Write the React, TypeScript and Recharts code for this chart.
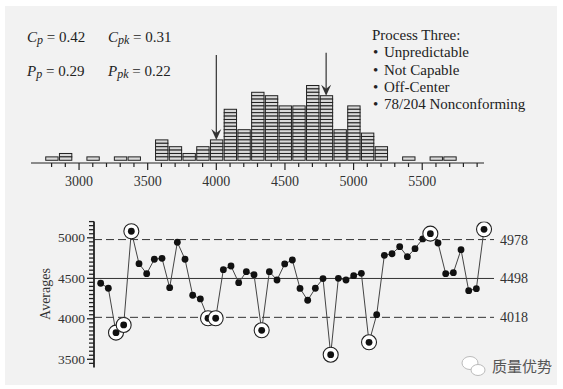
import React from 'react';
import { BarChart, Bar, LineChart, Line, XAxis, YAxis, ReferenceLine } from 'recharts';

// histogram: bin centres and how many of the 204 values fall in each
const bins = [2800, 2900, 3100, 3300, 3400, 3600, 3700, 3800, 3900, 4000, 4100, 4200, 4300, 4400, 4500, 4600, 4700, 4800, 4900, 5000, 5100, 5200, 5400, 5600, 5700];
const counts = [1, 2, 1, 1, 1, 6, 4, 2, 4, 6, 15, 9, 20, 19, 16, 16, 22, 19, 9, 16, 8, 4, 1, 1, 1];
const histTicks = [2800, 2900, 3000, 3100, 3200, 3300, 3400, 3500, 3600, 3700, 3800, 3900, 4000, 4100, 4200, 4300, 4400, 4500, 4600, 4700, 4800, 4900, 5000, 5100, 5200, 5300, 5400, 5500, 5600, 5700, 5800, 5900];
const histLabels = [3000, 3500, 4000, 4500, 5000, 5500];
const specLimits = [4000, 4800];
const specArrowTop = [31, 31.6];
const specArrowTip = [6, 19];

// average chart: 51 subgroup averages
const averages = [
  4439, 4377, 3829, 3924, 5081, 4681, 4557, 4735, 4747, 4384,
  4945, 4735, 4291, 4245, 4007, 4007, 4607, 4652, 4446, 4582,
  4545, 3858, 4582, 4479, 4677, 4726, 4375, 4229, 4377, 4496,
  3557, 4500, 4479, 4533, 4562, 3710, 4051, 4784, 4803, 4891,
  4767, 4866, 4986, 5051, 4936, 4557, 4570, 4854, 4347, 4372,
  5105,
];
const flagged = [3, 4, 5, 15, 16, 22, 31, 36, 44, 51];
const limitValues = [4978, 4498, 4018];
const limitDashed = [true, false, true];
const avgTicks = [3450, 3500, 3550, 3600, 3650, 3700, 3750, 3800, 3850, 3900, 3950, 4000, 4050, 4100, 4150, 4200, 4250, 4300, 4350, 4400, 4450, 4500, 4550, 4600, 4650, 4700, 4750, 4800, 4850, 4900, 4950, 5000, 5050, 5100, 5150, 5200];
const avgLabels = [3500, 4000, 4500, 5000];

const histData = bins.map((b, i) => ({ bin: b, count: counts[i] }));
const avgData = averages.map((v, i) => ({ n: i + 1, avg: v, flagged: flagged.includes(i + 1) }));

const SERIF = '"Liberation Serif", "Times New Roman", serif';
const INK = '#222';

const StackedBar = (props: any) => {
  const { x, y, width, height, payload } = props;
  const n = payload.count;
  if (!n || height <= 0) return null;
  const h = height / n;
  return (
    <g>
      {Array.from({ length: n }, (_, k) => (
        <rect key={k} x={x} y={y + k * h} width={width} height={h} fill="#dadada" stroke={INK} strokeWidth={1} />
      ))}
    </g>
  );
};

const HistTick = (props: any) => {
  const { x, y, payload } = props;
  const major = histLabels.includes(payload.value);
  return (
    <g>
      <line x1={x} y1={y} x2={x} y2={y + (major ? 7 : 4)} stroke={INK} strokeWidth={1.2} />
      {major && (
        <text x={x} y={y + 23} textAnchor="middle" fontFamily={SERIF} fontSize={14} fill="#333">
          {payload.value}
        </text>
      )}
    </g>
  );
};

const Arrow = (props: any) => {
  const { x1, y1, x2, y2 } = props;
  return (
    <g>
      <line x1={x1} y1={y1} x2={x2} y2={y2 - 6} stroke="#333" strokeWidth={1.2} />
      <path d={`M${x2},${y2} L${x2 - 5},${y2 - 11} L${x2},${y2 - 7} L${x2 + 5},${y2 - 11} Z`} fill="#333" />
    </g>
  );
};

const AvgTick = (props: any) => {
  const { x, y, payload } = props;
  const major = avgLabels.includes(payload.value);
  return (
    <g>
      <line x1={x - (major ? 7 : 5)} y1={y} x2={x} y2={y} stroke={INK} strokeWidth={1.3} />
      {major && (
        <text x={x - 9} y={y + 4.5} textAnchor="end" fontFamily={SERIF} fontSize={13.5} fill="#333">
          {payload.value}
        </text>
      )}
    </g>
  );
};

const AvgDot = (props: any) => {
  const { cx, cy, payload } = props;
  return (
    <g>
      {payload.flagged && <circle cx={cx} cy={cy} r={7.5} fill="#fff" stroke={INK} strokeWidth={1.1} />}
      <circle cx={cx} cy={cy} r={3.4} fill="#111" />
    </g>
  );
};

const textStyle = { fontFamily: SERIF, fontSize: 15, fill: '#222' };
const notes = ['Unpredictable', 'Not Capable', 'Off-Center', '78/204 Nonconforming'];

export default function App() {
  return (
    <div style={{ position: 'absolute', left: 0, top: 0, width: 563, height: 389, background: '#fff' }}>
      <div style={{ position: 'absolute', left: 5, top: 6, width: 552, height: 379, background: '#f2f2f2' }} />

      <div style={{ position: 'absolute', left: 0, top: 0 }}>
        <BarChart width={563} height={200} data={histData} margin={{ top: 51.5, right: 79, bottom: 7, left: 31 }}>
          <XAxis
            type="number"
            dataKey="bin"
            domain={[2650, 5950]}
            ticks={histTicks}
            interval={0}
            tick={<HistTick />}
            tickLine={false}
            tickSize={0}
            tickMargin={0}
            height={30}
            axisLine={{ stroke: INK, strokeWidth: 1.2 }}
            allowDataOverflow
          />
          <YAxis type="number" domain={[-0.8, 32]} hide allowDataOverflow />
          <Bar dataKey="count" barSize={13.73} shape={<StackedBar />} isAnimationActive={false} />
          {specLimits.map((s, i) => (
            <ReferenceLine
              key={s}
              segment={[{ x: s, y: specArrowTop[i] }, { x: s, y: specArrowTip[i] }]}
              shape={<Arrow />}
              ifOverflow="visible"
            />
          ))}
        </BarChart>
      </div>

      <div style={{ position: 'absolute', left: 0, top: 0 }}>
        <LineChart width={563} height={389} data={avgData} margin={{ top: 221.6, right: 69, bottom: 21.6, left: 34 }}>
          <XAxis type="number" dataKey="n" domain={[0.13, 52.3]} hide allowDataOverflow />
          <YAxis
            type="number"
            domain={[3400, 5200]}
            ticks={avgTicks}
            interval={0}
            tick={<AvgTick />}
            tickLine={false}
            tickSize={0}
            tickMargin={0}
            width={60}
            axisLine={{ stroke: INK, strokeWidth: 1.8 }}
            allowDataOverflow
          />
          {limitValues.map((v, i) => (
            <ReferenceLine
              key={v}
              y={v}
              stroke="#333"
              strokeWidth={1}
              strokeDasharray={limitDashed[i] ? '8 4' : undefined}
              label={{ value: String(v), position: 'right', offset: 6, fill: '#333', fontSize: 14, fontFamily: SERIF }}
            />
          ))}
          <Line
            dataKey="avg"
            stroke="#444"
            strokeWidth={1}
            dot={(p: any) => <AvgDot key={p.index} {...p} />}
            isAnimationActive={false}
          />
        </LineChart>
      </div>

      <svg width={563} height={389} style={{ position: 'absolute', left: 0, top: 0, pointerEvents: 'none' }}>
        <text x={27} y={42} {...textStyle}>
          <tspan fontStyle="italic">C</tspan>
          <tspan fontStyle="italic" fontSize={12} dy={2}>p</tspan>
          <tspan dy={-2}> = 0.42</tspan>
        </text>
        <text x={108} y={42} {...textStyle}>
          <tspan fontStyle="italic">C</tspan>
          <tspan fontStyle="italic" fontSize={12} dy={2}>pk</tspan>
          <tspan dy={-2}> = 0.31</tspan>
        </text>
        <text x={27} y={76} {...textStyle}>
          <tspan fontStyle="italic">P</tspan>
          <tspan fontStyle="italic" fontSize={12} dy={2}>p</tspan>
          <tspan dy={-2}> = 0.29</tspan>
        </text>
        <text x={108} y={76} {...textStyle}>
          <tspan fontStyle="italic">P</tspan>
          <tspan fontStyle="italic" fontSize={12} dy={2}>pk</tspan>
          <tspan dy={-2}> = 0.22</tspan>
        </text>

        <text x={372} y={40} {...textStyle}>Process Three:</text>
        {notes.map((t, i) => (
          <g key={t}>
            <text x={373} y={57.3 + i * 17.3} {...textStyle}>•</text>
            <text x={384} y={57.3 + i * 17.3} {...textStyle}>{t}</text>
          </g>
        ))}

        <text x={47} y={294} transform="rotate(-90, 47, 294)" textAnchor="middle" dominantBaseline="middle" fontFamily={SERIF} fontSize={14} fill="#333">
          Averages
        </text>

        <ellipse cx={470} cy={363} rx={8} ry={6.5} fill="#fff" stroke="#bbb" strokeWidth={1} />
        <ellipse cx={478} cy={370} rx={7} ry={5.5} fill="#fff" stroke="#bbb" strokeWidth={1} />
        <text x={492} y={372} fontFamily='"Noto Sans CJK SC", sans-serif' fontSize={15} fill="#555">质量优势</text>
      </svg>
    </div>
  );
}
